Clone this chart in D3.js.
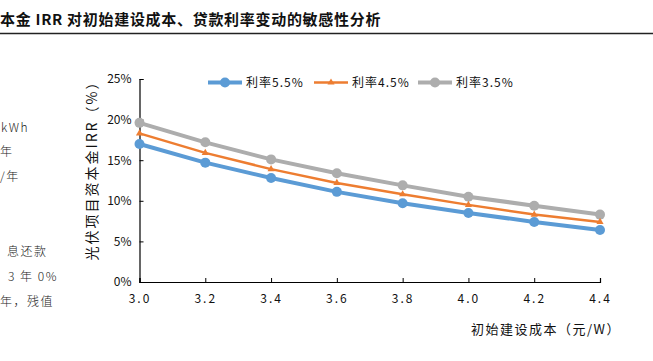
<!DOCTYPE html>
<html><head><meta charset="utf-8">
<script src="https://cdn.jsdelivr.net/npm/d3@7/dist/d3.min.js"></script>
<style>
html,body{margin:0;padding:0;background:#fff;}
svg{display:block;}
text{font-family:"Noto Sans CJK SC","Liberation Sans",sans-serif;}
</style></head>
<body>
<svg id="c" width="653" height="361"></svg>
<script>
const costs = [3.0, 3.2, 3.4, 3.6, 3.8, 4.0, 4.2, 4.4];
const rate55 = [17.0, 14.7, 12.8, 11.1, 9.7, 8.5, 7.4, 6.4];
const rate45 = [18.3, 15.9, 13.9, 12.2, 10.8, 9.5, 8.3, 7.4];
const rate35 = [19.6, 17.2, 15.1, 13.4, 11.9, 10.5, 9.4, 8.3];
const seriesNames = ["利率5.5%", "利率4.5%", "利率3.5%"];
const yTicks = [0, 5, 10, 15, 20, 25];
const xTickLabels = ["3.0", "3.2", "3.4", "3.6", "3.8", "4.0", "4.2", "4.4"];
const titleText = "本金 IRR 对初始建设成本、贷款利率变动的敏感性分析";
const yTitle = "光伏项目资本金IRR（%）";
const xTitle = "初始建设成本（元/W）";
const sideNotes = ["kWh", "年", "/年", "息还款", "3 年 0%", "年，残值"];

const svg = d3.select("#c");
const colors = ["#5B9BD5", "#ED7D31", "#ADADAD"];
const widths = [4, 2.5, 4];
const data = [rate55, rate45, rate35];

const x = d3.scaleLinear().domain([3.0, 4.4]).range([139.5, 600]);
const y = d3.scaleLinear().domain([0, 25]).range([282, 79]);

// title
svg.append("text").attr("x", 0).attr("y", 25).attr("font-size", 15)
  .attr("font-weight", 700).attr("letter-spacing", 0.7).attr("fill", "#111").text(titleText);
svg.append("line").attr("x1", 0).attr("x2", 653).attr("y1", 33.5).attr("y2", 33.5)
  .attr("stroke", "#222").attr("stroke-width", 1.5);

// side notes (visible pieces of the neighbouring panel)
const noteY = [128, 152, 177, 252, 277, 302];
const noteX = [1, 0, 0, 7, 8, 0];
svg.selectAll("text.note").data(sideNotes).join("text").attr("class", "note")
  .attr("x", (d, i) => noteX[i]).attr("y", (d, i) => noteY[i]).attr("dy", "0.35em")
  .attr("font-size", 12).attr("font-weight", 300).attr("letter-spacing", 1.5)
  .attr("fill", "#222").text(d => d);

// axes
const yAxis = d3.axisLeft(y).tickValues(yTicks).tickSize(-4).tickFormat(d => d + "%");
const gy = svg.append("g").attr("transform", "translate(139.5,0)").call(yAxis);
gy.select(".domain").attr("stroke", "#000").attr("stroke-width", 1.2);
gy.selectAll(".tick line").attr("stroke", "#000");
gy.selectAll(".tick text").attr("x", -8).attr("font-family", "Liberation Sans, Arial, sans-serif")
  .attr("font-size", 12).attr("fill", "#111");

const xAxis = d3.axisBottom(x).tickValues(costs).tickSize(-4).tickFormat((d, i) => xTickLabels[i]);
const gx = svg.append("g").attr("transform", "translate(0,282)").call(xAxis);
gx.select(".domain").attr("stroke", "#000").attr("stroke-width", 1.2);
gx.selectAll(".tick line").attr("stroke", "#000");
gx.selectAll(".tick text").attr("y", 12).attr("font-size", 12).attr("letter-spacing", 2).attr("fill", "#111");

// axis titles
svg.append("text").attr("transform", "translate(97,167) rotate(-90)").attr("text-anchor", "middle")
  .attr("font-size", 14).attr("letter-spacing", 2).attr("fill", "#111").text(yTitle);
svg.append("text").attr("x", 621).attr("y", 334).attr("text-anchor", "end")
  .attr("font-size", 13).attr("letter-spacing", 1.5).attr("fill", "#111").text(xTitle);

// lines
const line = d3.line().x((d, i) => x(costs[i])).y(d => y(d));
data.slice().reverse().forEach((vals, k) => {
  const i = 2 - k;
  svg.append("path").datum(vals).attr("d", line).attr("fill", "none")
    .attr("stroke", colors[i]).attr("stroke-width", widths[i]).attr("stroke-linejoin", "round");
  if (i === 1) {
    svg.selectAll("path.tri" + i).data(vals).join("path").attr("class", "tri" + i)
      .attr("d", d3.symbol(d3.symbolTriangle, 22)())
      .attr("transform", (d, j) => `translate(${x(costs[j])},${y(d)})`).attr("fill", colors[i]);
  } else {
    svg.selectAll("circle.c" + i).data(vals).join("circle").attr("class", "c" + i)
      .attr("cx", (d, j) => x(costs[j])).attr("cy", d => y(d)).attr("r", 5).attr("fill", colors[i]);
  }
});

// legend
const legX = [208, 314, 418];
const lg = svg.append("g");
seriesNames.forEach((name, i) => {
  const ly = 82.5;
  lg.append("line").attr("x1", legX[i]).attr("x2", legX[i] + 34).attr("y1", ly).attr("y2", ly)
    .attr("stroke", colors[i]).attr("stroke-width", widths[i]);
  if (i === 1) {
    lg.append("path").attr("d", d3.symbol(d3.symbolTriangle, 22)())
      .attr("transform", `translate(${legX[i] + 17},${ly})`).attr("fill", colors[i]);
  } else {
    lg.append("circle").attr("cx", legX[i] + 17).attr("cy", ly).attr("r", 5).attr("fill", colors[i]);
  }
  lg.append("text").attr("x", legX[i] + 38).attr("y", ly).attr("dy", "0.35em")
    .attr("font-size", 12).attr("letter-spacing", 1).attr("fill", "#111").text(name);
});
</script>
</body></html>
